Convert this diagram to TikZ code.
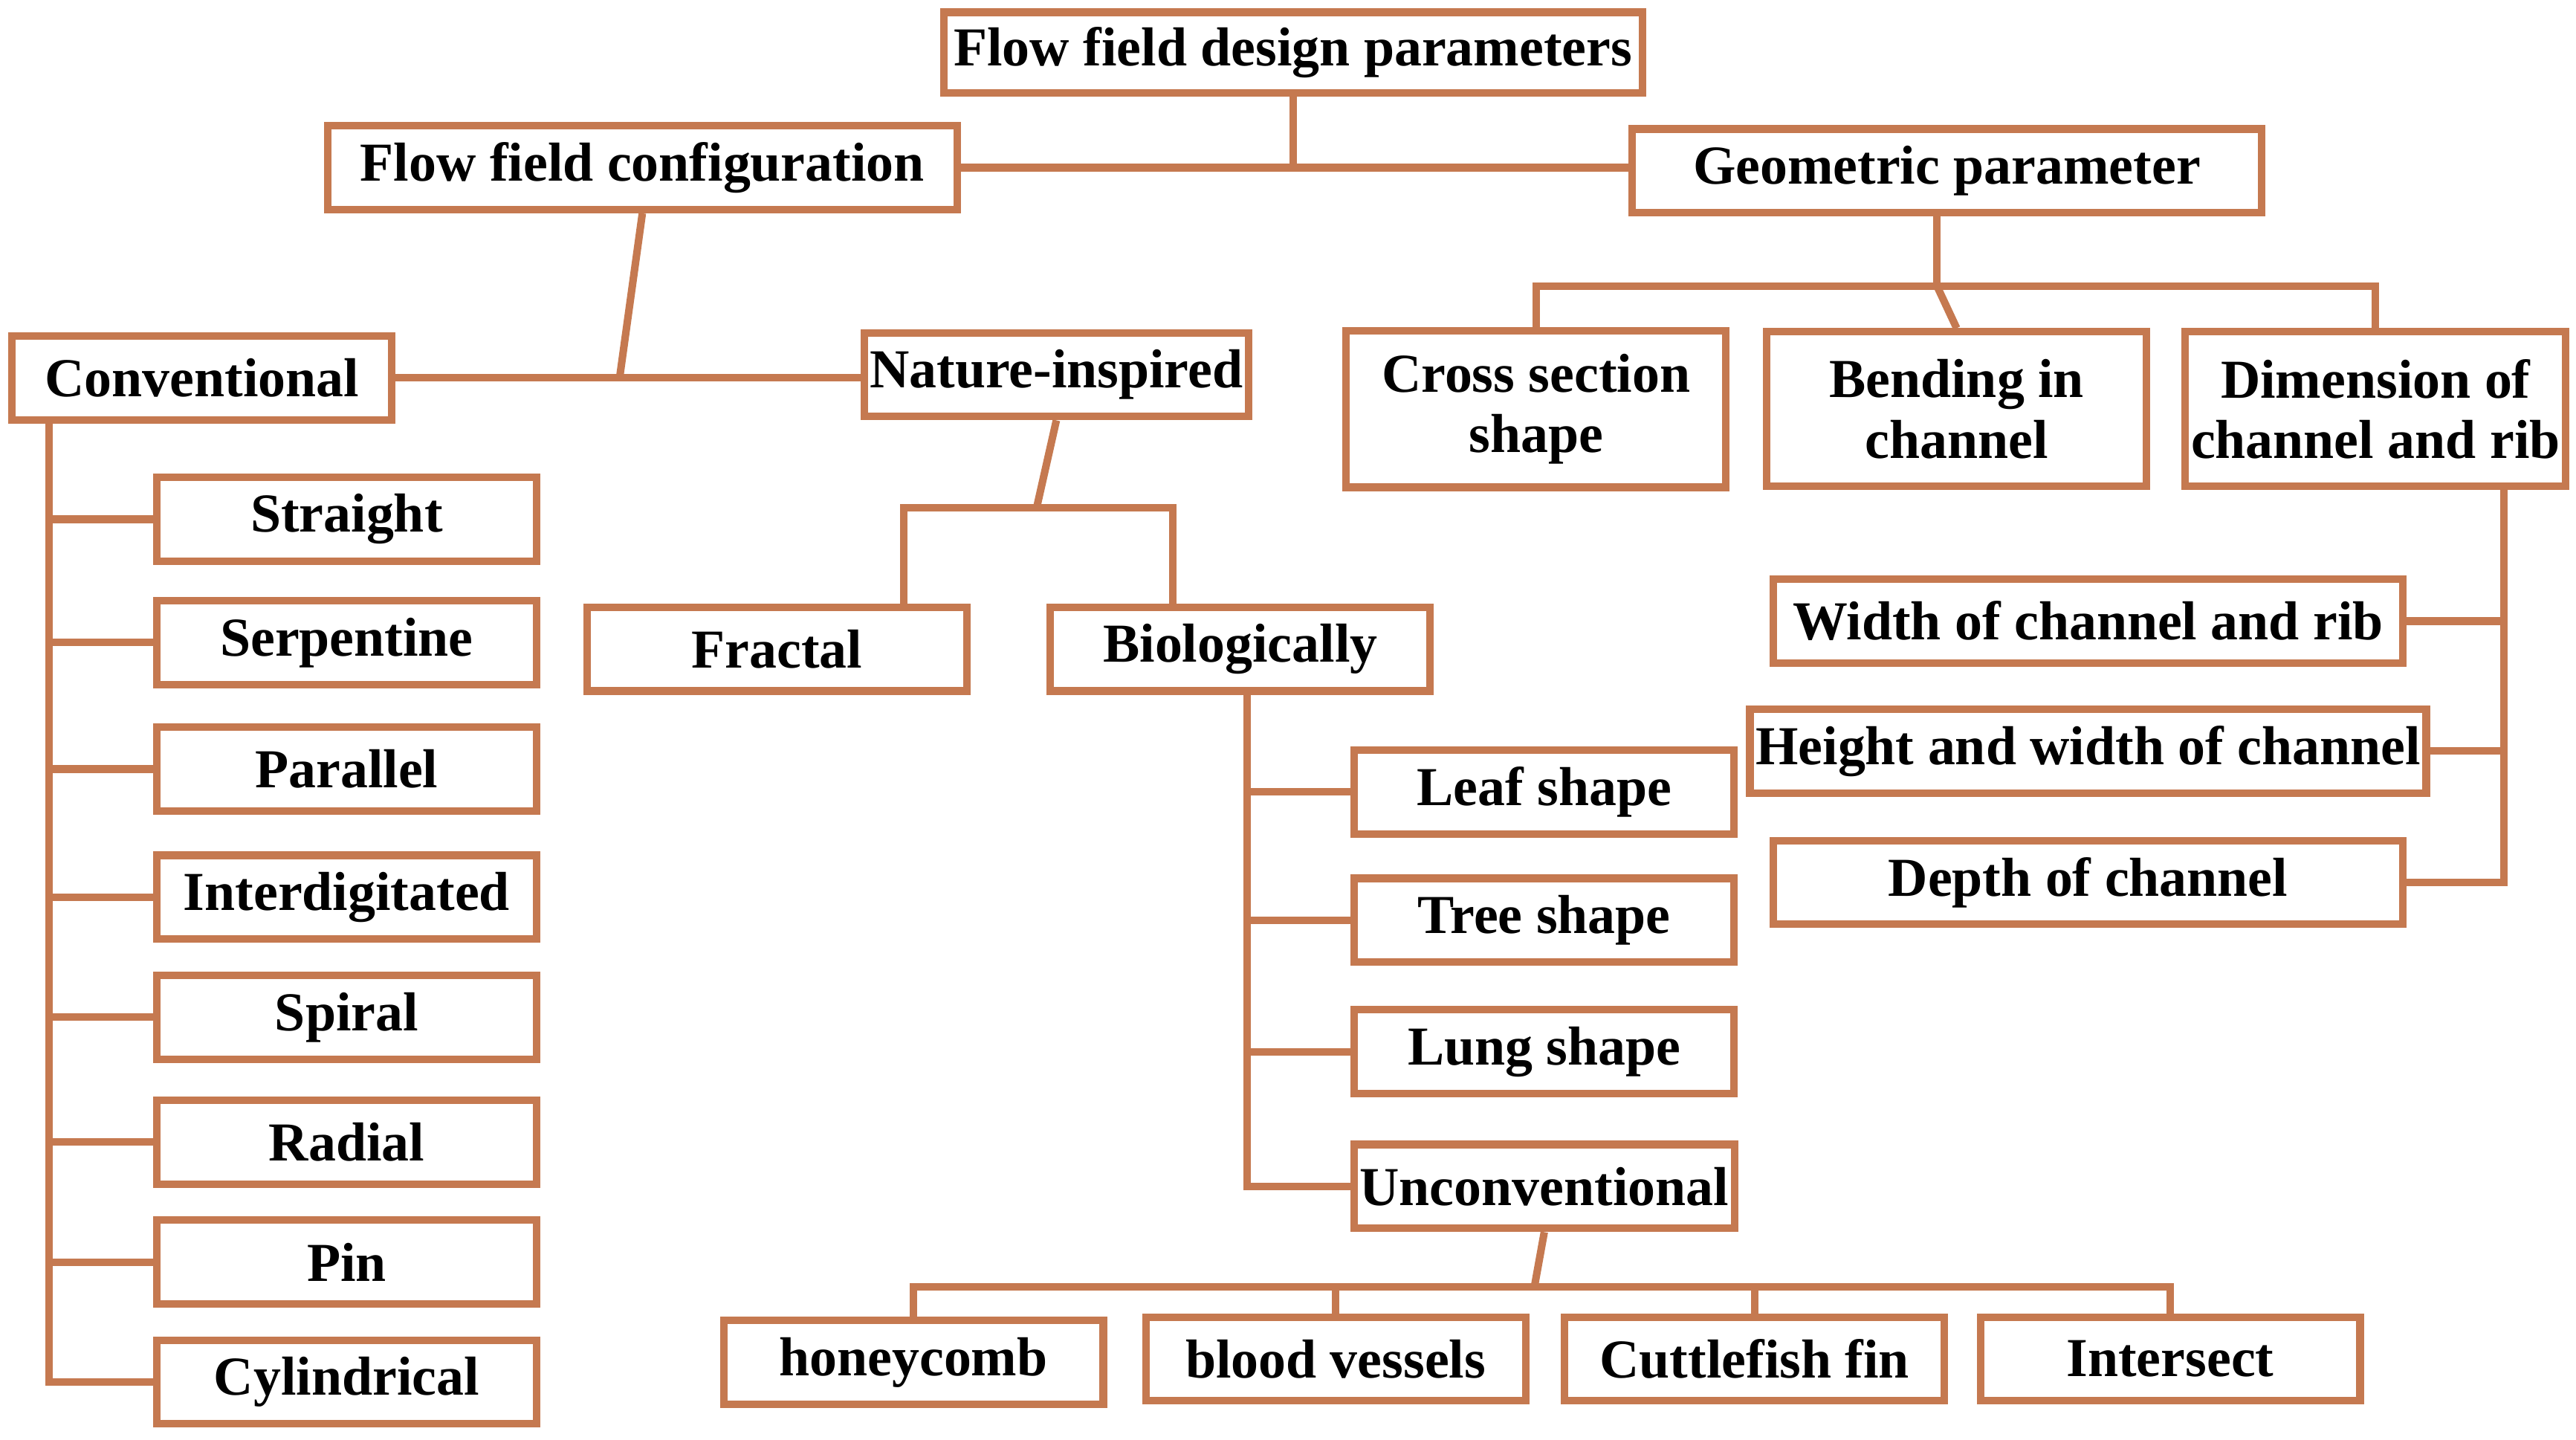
\documentclass[tikz,border=0pt]{standalone}
\usepackage{fontspec}
\setmainfont{Liberation Serif}
\usetikzlibrary{positioning,calc}
\definecolor{linkbrown}{RGB}{197,121,80}
\tikzset{
  box/.style={draw=linkbrown,line width=1.3pt,minimum width=2.31cm,minimum height=0.51cm,
    inner sep=1pt,align=center,font=\fontsize{9.5}{10.5}\selectfont\bfseries},
  wide/.style={box,minimum width=3.83cm},
  link/.style={draw=linkbrown,line width=1.3pt}
}
\begin{document}
\begin{tikzpicture}[x=0.01cm,y=-0.01cm]
		\useasboundingbox (0,0) rectangle (1568,876);
		% top levels
		\node[box,minimum width=4.25cm,minimum height=0.49cm] (design) at (787,32) {Flow field design parameters};
		\node[wide] (config) at (391,102) {Flow field configuration};
		\node[wide] (geom) at (1185,104) {Geometric parameter};
		\node[box] (conv) at (123,230) {Conventional};
		\node[box] (nature) at (643,228) {Nature-inspired};
		\node[box,minimum height=0.95cm] (cross) at (935,249) {Cross section\\shape};
		\node[box,minimum height=0.94cm] (bend) at (1191,249) {Bending in\\channel};
		\node[box,minimum height=0.94cm] (dim) at (1446,249) {Dimension of\\channel and rib};
		% conventional types
		\node[box] (straight) at (211,316) {Straight};
		\node[box] (serp) at (211,391) {Serpentine};
		\node[box] (paral) at (211,468) {Parallel};
		\node[box] (inter) at (211,546) {Interdigitated};
		\node[box] (spiral) at (211,619) {Spiral};
		\node[box] (radial) at (211,695) {Radial};
		\node[box] (pin) at (211,768) {Pin};
		\node[box] (cyl) at (211,841) {Cylindrical};
		% nature-inspired types
		\node[box] (fractal) at (473,395) {Fractal};
		\node[box] (bio) at (755,395) {Biologically};
		\node[box] (leaf) at (940,482) {Leaf shape};
		\node[box] (tree) at (940,560) {Tree shape};
		\node[box] (lung) at (940,640) {Lung shape};
		\node[box] (uncon) at (940,722) {Unconventional};
		\node[box] (honey) at (556,829) {honeycomb};
		\node[box] (blood) at (813,827) {blood vessels};
		\node[box] (cuttle) at (1068,827) {Cuttlefish fin};
		\node[box] (isect) at (1321,827) {Intersect};
		% dimensions
		\node[wide] (width) at (1271,378) {Width of channel and rib};
		\node[wide] (height) at (1271,457) {Height and width of channel};
		\node[wide] (depth) at (1271,537) {Depth of channel};

		\draw[link] (design.south) -- (787,101);
		\draw[link] (config.east) -- (config.east -| geom.west);
		\draw[link] (config.south) -- (377,231);
		\draw[link] (conv.east) -- (conv.east -| nature.west);
		\draw[link] (1179,130) -- (1179,174);
		\draw[link] (cross.north) |- (dim.north |- 0,174) -- (dim.north);
		\draw[link] (bend.north) -- (1179,174);
		\coordinate (ctrunk) at (30,256);
		\draw[link] (ctrunk) |- (cyl.west);
		\foreach \n in {straight,serp,paral,inter,spiral,radial,pin}
			\draw[link] (ctrunk |- \n.west) -- (\n.west);
		\draw[link] (nature.south) -- (631,309);
		\draw[link] (fractal.north -| 550,0) |- (714,309) -- (bio.north -| 714,0);
		\coordinate (btrunk) at (759,421);
		\draw[link] (btrunk) |- (uncon.west);
		\foreach \n in {leaf,tree,lung}
			\draw[link] (btrunk |- \n.west) -- (\n.west);
		\coordinate (dtrunk) at (1524,296);
		\draw[link] (dtrunk) |- (depth.east);
		\foreach \n in {width,height}
			\draw[link] (dtrunk |- \n.east) -- (\n.east);
		\draw[link] (uncon.south) -- (934,783);
		\draw[link] (honey.north) |- (isect.north |- 0,783) -- (isect.north);
		\draw[link] (blood.north) -- (blood.north |- 0,783);
		\draw[link] (cuttle.north) -- (cuttle.north |- 0,783);
\end{tikzpicture}
\end{document}
